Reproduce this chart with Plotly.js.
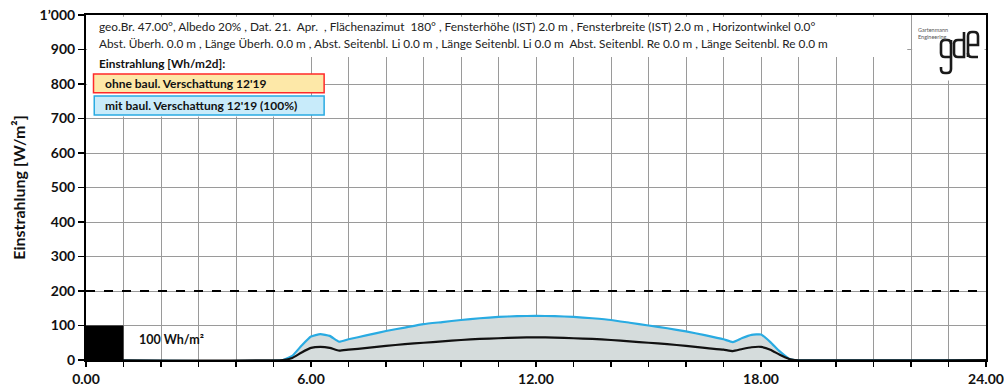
<!DOCTYPE html>
<html>
<head>
<meta charset="utf-8">
<script src="https://cdn.plot.ly/plotly-3.0.1.min.js"></script>
<style>html,body{margin:0;padding:0;background:#fff;}#chart{width:1004px;height:387px;}</style>
</head>
<body>
<div id="chart"></div>
<script>
// Hours of day
const hours = [0, 5.25, 5.5, 5.75, 6.0, 6.25, 6.5, 6.75, 7.0, 7.5, 8.0, 8.5, 9.0, 9.5, 10.0, 10.5, 11.0, 11.5, 12.0, 12.5, 13.0, 13.5, 14.0, 14.5, 15.0, 15.5, 16.0, 16.5, 17.0, 17.25, 17.5, 17.75, 18.0, 18.25, 18.5, 18.75, 18.9, 24];
// ohne baul. Verschattung (upper, blue) W/m2
const ohneVerschattung = [0, 0, 12, 42, 68, 75, 70, 53, 60, 72, 84, 94, 104, 110, 116, 121, 125, 127, 128, 127, 125, 121, 116, 108, 100, 92, 83, 72, 60, 52, 64, 73, 74, 52, 25, 4, 0, 0];
// mit baul. Verschattung (lower, black) W/m2
const mitVerschattung = [0, 0, 6, 22, 35, 38, 35, 27, 30, 35, 41, 46, 50, 54, 58, 61, 63, 65, 66, 65, 63, 61, 58, 54, 50, 46, 41, 35, 30, 26, 32, 37, 38, 30, 15, 3, 0, 0];

const xTickVals = [0, 6, 12, 18, 24];
const xTickText = ['0.00', '6.00', '12.00', '18.00', '24.00'];
const yTickVals = [0, 100, 200, 300, 400, 500, 600, 700, 800, 900, 1000];
const yTickText = ['0', '100', '200', '300', '400', '500', '600', '700', '800', '900', '1\u2019000'];

const infoLine1 = 'geo.Br. 47.00°, Albedo 20% , Dat. 21.  Apr.  , Flächenazimut  180° , Fensterhöhe (IST) 2.0 m , Fensterbreite (IST) 2.0 m , Horizontwinkel 0.0°';
const infoLine2 = 'Abst. Überh. 0.0 m , Länge Überh. 0.0 m , Abst. Seitenbl. Li 0.0 m , Länge Seitenbl. Li 0.0 m  Abst. Seitenbl. Re 0.0 m , Länge Seitenbl. Re 0.0 m';
const legendTitle = 'Einstrahlung [Wh/m2d]:';
const legend1 = "ohne baul. Verschattung 12'19";
const legend2 = "mit baul. Verschattung 12'19 (100%)";

const FONT = 'Lato, "Open Sans", sans-serif';

// logo path helper: pixel-space coordinate pairs -> paper coordinates
const PL = 86, PR = 986, PT = 15, PB = 360;
function logoPath(cmds) {
  return cmds.map(c => c[0] + c.slice(1).map((v, i) => i % 2 === 0
    ? ((v - PL) / (PR - PL)).toFixed(5)
    : ((PB - v) / (PB - PT)).toFixed(5)).join(',')).join(' ');
}
const logoLetters = [
  // g
  [['M', 951, 44], ['Q', 951, 40, 947, 40], ['L', 945, 40], ['Q', 941, 40, 941, 44], ['L', 941, 53], ['Q', 941, 57, 945, 57], ['L', 951, 57]],
  [['M', 951, 40], ['L', 951, 69], ['Q', 951, 73, 947, 73], ['L', 945, 73], ['Q', 941, 73, 941, 69], ['L', 941, 67]],
  // a
  [['M', 964, 32], ['L', 964, 57], ['L', 958, 57], ['Q', 954, 57, 954, 53], ['L', 954, 44], ['Q', 954, 40, 958, 40], ['L', 964, 40]],
  // e
  [['M', 968, 57], ['L', 968, 36], ['Q', 968, 32, 972, 32], ['L', 974, 32], ['Q', 978, 32, 978, 36], ['L', 978, 45], ['L', 968, 45]],
  [['M', 968, 53], ['Q', 968, 57, 972, 57], ['L', 978, 57]]
];

const traces = [
  {x: hours, y: ohneVerschattung, type: 'scatter', mode: 'lines', fill: 'tozeroy',
   fillcolor: '#d5dcdc', line: {color: '#29abe2', width: 2.2, shape: 'spline', smoothing: 0.4}, hoverinfo: 'skip'},
  {x: hours, y: mitVerschattung, type: 'scatter', mode: 'lines',
   line: {color: '#111', width: 2.2, shape: 'spline', smoothing: 0.4}, hoverinfo: 'skip'}
];

const shapes = [
  // white info area over grid
  {type: 'rect', xref: 'x', yref: 'y', x0: 0.03, x1: 21.9, y0: 878, y1: 995, fillcolor: '#fff', line: {width: 0}, layer: 'above'},
  {type: 'rect', xref: 'x', yref: 'y', x0: 0.03, x1: 5.95, y0: 706, y1: 880, fillcolor: '#fff', line: {width: 0}, layer: 'above'},
  {type: 'rect', xref: 'x', yref: 'y', x0: 22.03, x1: 23.96, y0: 810, y1: 995, fillcolor: '#fff', line: {width: 0}, layer: 'above'},
  // legend boxes
  {type: 'rect', xref: 'x', yref: 'y', x0: 0.2, x1: 6.35, y0: 775, y1: 829, fillcolor: '#fde8a8', line: {color: '#ff2a2a', width: 1.5}, layer: 'above'},
  {type: 'rect', xref: 'x', yref: 'y', x0: 0.22, x1: 6.35, y0: 710, y1: 765, fillcolor: '#c8ebfa', line: {color: '#29abe2', width: 1.5}, layer: 'above'},
  // 100 Wh/m2 reference block
  {type: 'rect', xref: 'x', yref: 'y', x0: 0, x1: 1, y0: 0, y1: 100, fillcolor: '#000', line: {width: 0}, layer: 'above'},
  // dashed 200 line
  {type: 'line', xref: 'x', yref: 'y', x0: 0, x1: 24, y0: 200, y1: 200, line: {color: '#000', width: 1.8, dash: 'dash'}, layer: 'above'}
].concat(logoLetters.map(l => ({type: 'path', xref: 'paper', yref: 'paper', path: logoPath(l), line: {color: '#1a1a1a', width: 2.6}, layer: 'above'})));

const annotations = [
  {xref: 'x', yref: 'y', x: 0.3, y: 968, text: infoLine1, showarrow: false, xanchor: 'left', yanchor: 'middle', font: {family: FONT, size: 11.8, color: '#222'}},
  {xref: 'x', yref: 'y', x: 0.3, y: 916, text: infoLine2, showarrow: false, xanchor: 'left', yanchor: 'middle', font: {family: FONT, size: 11.8, color: '#222'}},
  {xref: 'x', yref: 'y', x: 0.3, y: 860, text: '<b>' + legendTitle + '</b>', showarrow: false, xanchor: 'left', yanchor: 'middle', font: {family: FONT, size: 11.8, color: '#111'}},
  {xref: 'x', yref: 'y', x: 0.45, y: 802, text: '<b>' + legend1 + '</b>', showarrow: false, xanchor: 'left', yanchor: 'middle', font: {family: FONT, size: 12, color: '#111'}},
  {xref: 'x', yref: 'y', x: 0.45, y: 738, text: '<b>' + legend2 + '</b>', showarrow: false, xanchor: 'left', yanchor: 'middle', font: {family: FONT, size: 12, color: '#111'}},
  {xref: 'x', yref: 'y', x: 1.35, y: 58, text: '<b>100 Wh/m²</b>', showarrow: false, xanchor: 'left', yanchor: 'middle', font: {family: FONT, size: 12.5, color: '#111'}},
  // logo small text
  {xref: 'paper', yref: 'paper', x: (916 - PL) / (PR - PL), y: (PB - 33.5) / (PB - PT), text: 'Gartenmann<br>Engineering', showarrow: false, xanchor: 'left', yanchor: 'middle', align: 'left', font: {family: FONT, size: 5.5, color: '#555'}}
];

const layout = {
  width: 1004, height: 387,
  margin: {l: 86, r: 18, t: 15, b: 27},
  paper_bgcolor: '#fff', plot_bgcolor: '#fff',
  showlegend: false,
  font: {family: FONT, color: '#111'},
  xaxis: {
    range: [0, 24], tickvals: xTickVals, ticktext: xTickText,
    tickfont: {family: FONT, size: 14, weight: 'bold', color: '#111'},
    ticks: 'outside', ticklen: 5, tickwidth: 1.5, tickcolor: '#000',
    showline: true, linecolor: '#000', linewidth: 2, mirror: true,
    showgrid: true, gridcolor: '#9a9a9a', gridwidth: 1,
    minor: {dtick: 1, tick0: 0, ticks: 'outside', ticklen: 5, tickcolor: '#000', tickwidth: 1.5, showgrid: true, gridcolor: '#9a9a9a', gridwidth: 1},
    zeroline: false, fixedrange: true
  },
  yaxis: {
    range: [0, 1000], tickvals: yTickVals, ticktext: yTickText,
    tickfont: {family: FONT, size: 14, weight: 'bold', color: '#111'},
    ticks: 'outside', ticklen: 6, tickwidth: 1.5, tickcolor: '#000',
    showline: true, linecolor: '#000', linewidth: 2, mirror: true,
    showgrid: true, gridcolor: '#9a9a9a', gridwidth: 1,
    zeroline: false, fixedrange: true,
    title: {text: '<b>Einstrahlung [W/m²]</b>', font: {family: FONT, size: 16, color: '#111'}, standoff: 10}
  },
  shapes: shapes,
  annotations: annotations
};

Plotly.newPlot('chart', traces, layout, {staticPlot: true, displayModeBar: false});
</script>
</body>
</html>
